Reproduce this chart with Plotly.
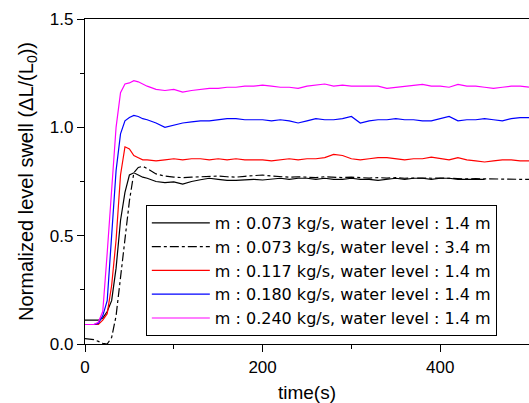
import plotly.graph_objects as go

# time axis (s)
t = [0, 5, 10, 15, 20, 25, 30, 35, 40, 45, 50, 55, 60, 65, 70,
     80, 90, 100, 110, 120, 130, 140, 150, 160, 170, 180, 190, 200,
     210, 220, 230, 240, 250, 260, 270, 280, 290, 300, 310, 320, 330,
     340, 350, 360, 370, 380, 390, 400, 410, 420, 430, 440, 450, 460,
     470, 480, 490, 500]

# normalized level swell for each case
swell_073_14 = [0.11, 0.11, 0.11, 0.11, 0.12, 0.15, 0.20, 0.35, 0.57, 0.70, 0.78, 0.79, 0.78, 0.77, 0.765,
                0.75, 0.745, 0.748, 0.738, 0.75, 0.758, 0.765, 0.76, 0.755, 0.755, 0.757, 0.76, 0.757,
                0.76, 0.765, 0.76, 0.765, 0.765, 0.76, 0.765, 0.76, 0.76, 0.765, 0.76, 0.76, 0.755,
                0.76, 0.765, 0.76, 0.765, 0.765, 0.76, 0.765, 0.765, 0.76, 0.76, 0.76, 0.76]
swell_073_34 = [0.025, 0.022, 0.02, 0.012, 0.003, 0.0, 0.03, 0.13, 0.30, 0.47, 0.66, 0.79, 0.815, 0.82, 0.81,
                0.785, 0.775, 0.77, 0.768, 0.77, 0.772, 0.773, 0.775, 0.772, 0.77, 0.774, 0.778, 0.78,
                0.775, 0.772, 0.77, 0.772, 0.77, 0.768, 0.772, 0.77, 0.768, 0.77, 0.768, 0.766, 0.768,
                0.766, 0.768, 0.765, 0.766, 0.764, 0.765, 0.766, 0.764, 0.765, 0.762, 0.763, 0.762, 0.76,
                0.762, 0.76, 0.76, 0.76]
swell_117 = [0.09, 0.09, 0.09, 0.09, 0.11, 0.14, 0.27, 0.48, 0.78, 0.91, 0.90, 0.87, 0.86, 0.85, 0.85,
             0.845, 0.85, 0.855, 0.85, 0.855, 0.855, 0.85, 0.855, 0.85, 0.855, 0.85, 0.85, 0.85,
             0.845, 0.85, 0.855, 0.85, 0.855, 0.855, 0.86, 0.875, 0.87, 0.855, 0.85, 0.855, 0.86,
             0.86, 0.855, 0.85, 0.855, 0.855, 0.862, 0.855, 0.85, 0.86, 0.85, 0.845, 0.84, 0.845,
             0.85, 0.85, 0.845, 0.845]
swell_180 = [0.09, 0.09, 0.09, 0.095, 0.13, 0.20, 0.50, 0.80, 0.97, 1.03, 1.045, 1.055, 1.05, 1.04, 1.035,
             1.02, 1.0, 1.01, 1.02, 1.025, 1.03, 1.03, 1.035, 1.04, 1.04, 1.035, 1.035, 1.035,
             1.03, 1.035, 1.03, 1.02, 1.03, 1.04, 1.035, 1.035, 1.04, 1.05, 1.02, 1.03, 1.035,
             1.035, 1.04, 1.035, 1.035, 1.03, 1.03, 1.04, 1.05, 1.03, 1.035, 1.035, 1.04, 1.035,
             1.03, 1.04, 1.045, 1.045]
swell_240 = [0.09, 0.09, 0.09, 0.10, 0.15, 0.42, 0.73, 1.0, 1.16, 1.20, 1.205, 1.215, 1.21, 1.20, 1.19,
             1.175, 1.17, 1.175, 1.163, 1.17, 1.175, 1.18, 1.18, 1.185, 1.185, 1.19, 1.19, 1.195,
             1.19, 1.185, 1.185, 1.18, 1.19, 1.195, 1.20, 1.19, 1.195, 1.19, 1.19, 1.19, 1.19,
             1.18, 1.185, 1.19, 1.195, 1.198, 1.19, 1.19, 1.185, 1.198, 1.19, 1.19, 1.185, 1.18,
             1.185, 1.19, 1.19, 1.186]

names = ["m : 0.073 kg/s, water level : 1.4 m",
         "m : 0.073 kg/s, water level : 3.4 m",
         "m : 0.117 kg/s, water level : 1.4 m",
         "m : 0.180 kg/s, water level : 1.4 m",
         "m : 0.240 kg/s, water level : 1.4 m"]
series = [swell_073_14, swell_073_34, swell_117, swell_180, swell_240]
colors = ["black", "black", "#ff0000", "#0000ff", "#ff00ff"]
dashes = ["solid", "dashdot", "solid", "solid", "solid"]

font = "Arial, Liberation Sans, sans-serif"

fig = go.Figure()
for name, ys, c, d in zip(names, series, colors, dashes):
    fig.add_trace(go.Scatter(
        x=t[:len(ys)], y=ys, mode="lines", name=name,
        line=dict(color=c, width=1.2, dash=d),
    ))

fig.update_layout(
    width=529, height=403,
    margin=dict(l=85, r=0, t=19, b=59),
    plot_bgcolor="white", paper_bgcolor="white",
    font=dict(family=font, color="black", size=17),
    legend=dict(
        x=0.137, y=0.428, xanchor="left", yanchor="top",
        bordercolor="black", borderwidth=1, bgcolor="white",
        font=dict(size=16, family="DejaVu Sans"), itemwidth=58, tracegroupgap=0,
    ),
)

fig.update_xaxes(
    range=[0, 500], showgrid=False, zeroline=False, automargin=False,
    showline=True, linecolor="black", linewidth=1.3, mirror=True,
    ticks="outside", ticklen=7, tickcolor="black", tickwidth=1.2,
    tickvals=[0, 200, 400],
    minor=dict(ticks="outside", ticklen=4, tickvals=[100, 300, 500], tickcolor="black"),
    title=dict(text="time(s)", font=dict(size=19), standoff=16),
)
fig.update_yaxes(
    range=[0, 1.5], showgrid=False, zeroline=False, automargin=False,
    showline=True, linecolor="black", linewidth=1.3,
    ticks="outside", ticklen=7, tickcolor="black", tickwidth=1.2,
    tickvals=[0, 0.5, 1.0, 1.5], tickformat=".1f",
    minor=dict(ticks="outside", ticklen=4, tickvals=[0.25, 0.75, 1.25], tickcolor="black"),
    title=dict(text="Normalized level swell (\u0394L/(L<sub>0</sub>))", font=dict(size=20), standoff=10),
)

# drop the page's default body margin so the figure sits at the window corner
fig.write_html("out.html", config={"displayModeBar": False},
               post_script="document.body.style.margin='0';")
